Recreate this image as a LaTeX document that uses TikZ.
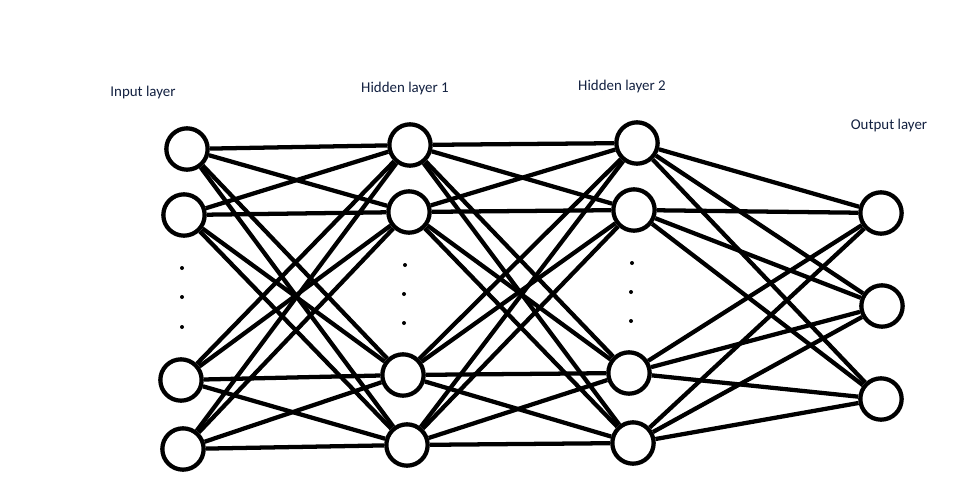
\documentclass[tikz,border=0pt]{standalone}
\usepackage{fontspec}
\setmainfont{Carlito}
\usepackage{xcolor}
\usepackage{tikz}
\definecolor{lblcol}{RGB}{18,32,64}

\begin{document}
\begin{tikzpicture}[x=0.75pt,y=-0.75pt,line width=3.2pt,
 neuron/.style={circle,draw,minimum size=31pt,inner sep=0pt},
 lbl/.style={text=lblcol,font=\fontsize{11.2}{13}\selectfont,inner sep=0pt},
 pt/.style={fill,circle,inner sep=0pt,minimum size=3pt,draw=none}]
 \useasboundingbox (0,0) rectangle (961,490);
 % input layer
 \node[neuron] (i1) at (187,149) {};
 \node[neuron] (i2) at (184,215) {};
 \node[neuron] (i3) at (181,380) {};
 \node[neuron] (i4) at (183,449) {};
 % hidden layer 1
 \node[neuron] (h1) at (410,145) {};
 \node[neuron] (h2) at (409,212) {};
 \node[neuron] (h3) at (403,375) {};
 \node[neuron] (h4) at (407,445) {};
 % hidden layer 2
 \node[neuron] (j1) at (637,143) {};
 \node[neuron] (j2) at (634,210) {};
 \node[neuron] (j3) at (629,373) {};
 \node[neuron] (j4) at (633,443) {};
 % output layer
 \node[neuron] (o1) at (881,213) {};
 \node[neuron] (o2) at (882,306) {};
 \node[neuron] (o3) at (881,399) {};
 % labels
 \node[lbl] (li) at (143,93) {Input layer};
 \node[lbl] (lh1) at (405,89) {Hidden layer 1};
 \node[lbl] (lh2) at (622,87) {Hidden layer 2};
 \node[lbl] (lo) at (889,126) {Output layer};
 % dots
 \node[pt] (di1) at (182,268) {};
 \node[pt] (di2) at (182,297) {};
 \node[pt] (di3) at (182,327) {};
 \node[pt] (dh1) at (405,265) {};
 \node[pt] (dh2) at (404,294) {};
 \node[pt] (dh3) at (404,323) {};
 \node[pt] (dj1) at (632,263) {};
 \node[pt] (dj2) at (631,292) {};
 \node[pt] (dj3) at (631,321) {};
 % connections
 \path (i1)
 edge (h1) edge (h2) edge (h3) edge (h4)
 (i2)
 edge (h1) edge (h2) edge (h3) edge (h4)
 (i3)
 edge (h1) edge (h2) edge (h3) edge (h4)
 (i4)
 edge (h1) edge (h2) edge (h3) edge (h4)
 (h1)
 edge (j1) edge (j2) edge (j3) edge (j4)
 (h2)
 edge (j1) edge (j2) edge (j3) edge (j4)
 (h3)
 edge (j1) edge (j2) edge (j3) edge (j4)
 (h4)
 edge (j1) edge (j2) edge (j3) edge (j4)
 (j1)
 edge (o1) edge (o2) edge (o3)
 (j2)
 edge (o1) edge (o2) edge (o3)
 (j3)
 edge (o1) edge (o2) edge (o3)
 (j4)
 edge (o1) edge (o2) edge (o3);
\end{tikzpicture}
\end{document}
